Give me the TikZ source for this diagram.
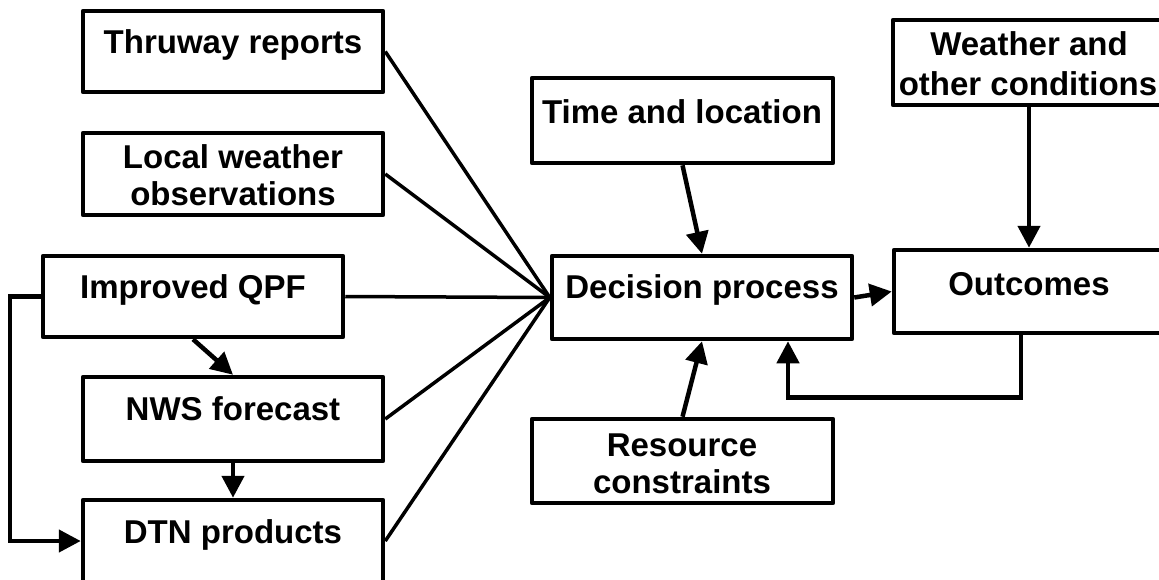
\documentclass[tikz,border=0pt]{standalone}
\usepackage{fontspec}
\setmainfont{Liberation Sans}
\usetikzlibrary{arrows.meta}
\tikzset{
  box/.style={draw=black, line width=4.5pt, fill=white, rectangle, inner sep=0pt, line join=round},
  txt/.style={anchor=base, inner sep=0pt, font=\fontsize{33}{38}\selectfont\bfseries},
  arr/.style={draw=black, line width=4.5pt, -{Triangle[length=22pt, width=22pt]}},
  fan/.style={draw=black, line width=3.5pt},
}
\begin{document}
\begin{tikzpicture}[x=1pt, y=-1pt]
\useasboundingbox (0,0) rectangle (1159,579);
\clip (0,0) rectangle (1159,579);
\fill[white] (0,0) rectangle (1159,579);
% boxes
\node[box, minimum width=300pt, minimum height=81pt] (thru) at (233,51.5) {};
\node[box, minimum width=300pt, minimum height=82pt] (lw) at (233,174) {};
\node[box, minimum width=300pt, minimum height=81pt] (qpf) at (193,296.5) {};
\node[box, minimum width=300pt, minimum height=84pt] (nws) at (233,419) {};
\node[box, minimum width=300pt, minimum height=82pt] (dtn) at (233,541) {};
\node[box, minimum width=301pt, minimum height=85pt] (time) at (682.5,120.5) {};
\node[box, minimum width=300pt, minimum height=83pt] (dec) at (702,297.5) {};
\node[box, minimum width=301pt, minimum height=84pt] (res) at (682.5,461) {};
\node[box, minimum width=270pt, minimum height=83pt] (out) at (1029,291.5) {};
\node[box, minimum width=272pt, minimum height=85pt] (wea) at (1029,62.5) {};
% texts
\node[txt] (thruT) at (233,53) {Thruway reports};
\node[txt] (lwT1) at (233,168) {Local weather};
\node[txt] (lwT2) at (233,205) {observations};
\node[txt] (qpfT) at (193,298) {Improved QPF};
\node[txt] (nwsT) at (233,420) {NWS forecast};
\node[txt] (dtnT) at (233,543) {DTN products};
\node[txt] (timeT) at (682,123) {Time and location};
\node[txt] (decT) at (702,298) {Decision process};
\node[txt] (resT1) at (682,456) {Resource};
\node[txt] (resT2) at (682,493) {constraints};
\node[txt] (outT) at (1029,295) {Outcomes};
\node[txt] (weaT1) at (1029,55) {Weather and};
\node[txt] (weaT2) at (1028,95) {other conditions};
% fan-in connectors
\draw[fan] (thru.east) -- (dec.west);
\draw[fan] (lw.east) -- (dec.west);
\draw[fan] (qpf.east) -- (dec.west);
\draw[fan] (nws.east) -- (dec.west);
\draw[fan] (dtn.east) -- (dec.west);
% arrows
\draw[arr] (qpf.south) -- (nws.north);
\draw[arr] (nws.south) -- (dtn.north);
\draw[arr] (qpf.west) -- ++(-31,0) |- (dtn.west);
\draw[arr] (time.south) -- (dec.north);
\draw[arr] (res.north) -- (dec.south);
\draw[arr] (dec.east) -- (out.west);
\draw[arr] (wea.south) -- (out.north);
\draw[arr] ([xshift=-8pt]out.south) |- ([xshift=86pt,yshift=-56pt]dec.south) -- ([xshift=86pt]dec.south);
\end{tikzpicture}
\end{document}
